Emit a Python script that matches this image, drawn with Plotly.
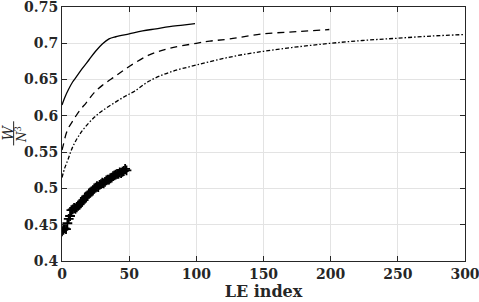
import plotly.graph_objects as go

# Solid curve (indices 0..99)
solid_x = [0, 2, 5, 8, 10, 15, 20, 25, 30, 35, 40, 50, 60, 70, 80, 90, 99]
solid_y = [0.615, 0.625, 0.637, 0.647, 0.652, 0.665, 0.677, 0.689, 0.699, 0.706,
           0.709, 0.713, 0.717, 0.720, 0.723, 0.725, 0.727]

# Dashed curve (indices 0..199)
dash_x = [0, 1, 3, 5, 8, 13, 18, 24, 30, 40, 50, 65, 80, 100, 110, 125, 150, 175, 199]
dash_y = [0.553, 0.560, 0.575, 0.584, 0.593, 0.607, 0.618, 0.632, 0.642, 0.655,
          0.668, 0.684, 0.693, 0.700, 0.703, 0.706, 0.713, 0.716, 0.719]

# Dash-dot curve (indices 0..299)
dd_x = [0, 2, 4.5, 7, 9.5, 13, 17, 24, 30, 39, 47, 54, 65, 80, 100, 125, 150, 175,
        200, 225, 250, 275, 299]
dd_y = [0.515, 0.528, 0.540, 0.553, 0.563, 0.574, 0.584, 0.598, 0.607, 0.618,
        0.627, 0.634, 0.648, 0.660, 0.670, 0.681, 0.689, 0.695, 0.700, 0.704,
        0.707, 0.710, 0.712]

# '+' marker series (indices 0..48)
plus_x = list(range(49))
plus_y = [0.441, 0.443, 0.445, 0.444, 0.452, 0.458, 0.462, 0.470, 0.471, 0.473,
          0.472, 0.474, 0.476, 0.478, 0.480, 0.482, 0.484, 0.487, 0.489, 0.490,
          0.493, 0.494, 0.496, 0.497, 0.500, 0.501, 0.503, 0.502, 0.505, 0.506,
          0.508, 0.507, 0.509, 0.511, 0.512, 0.512, 0.514, 0.515, 0.517, 0.518,
          0.519, 0.520, 0.520, 0.522, 0.521, 0.523, 0.524, 0.527, 0.525]

x_ticks = [0, 50, 100, 150, 200, 250, 300]
y_ticks = [0.4, 0.45, 0.5, 0.55, 0.6, 0.65, 0.7, 0.75]

FONT = "DejaVu Serif"
INK = "#262626"

fig = go.Figure()
fig.add_trace(go.Scatter(x=solid_x, y=solid_y, mode="lines",
                         line=dict(color="black", width=1.3), line_shape="spline"))
fig.add_trace(go.Scatter(x=dash_x, y=dash_y, mode="lines",
                         line=dict(color="black", width=1.3, dash="7px,5px"), line_shape="spline"))
fig.add_trace(go.Scatter(x=dd_x, y=dd_y, mode="lines",
                         line=dict(color="black", width=1.3, dash="4px,2px,1.5px,2px"), line_shape="spline"))
fig.add_trace(go.Scatter(x=plus_x, y=plus_y, mode="lines+markers",
                         line=dict(color="black", width=1),
                         marker=dict(symbol="cross-thin", size=7,
                                     line=dict(color="black", width=1.8))))

axis_common = dict(
    showline=True, linecolor=INK, linewidth=1, mirror="ticks",
    ticks="inside", ticklen=5, tickcolor=INK, automargin=False,
    showgrid=True, gridcolor="#e3e3e3", gridwidth=1, zeroline=False,
    ticklabeloverflow="allow",
    tickfont=dict(family=FONT, size=14, color=INK),
)

fig.update_xaxes(range=[0, 300], tickvals=x_ticks,
                 ticktext=["<b>%d</b>" % v for v in x_ticks],
                 title=dict(text="<b>LE index</b>", standoff=4,
                            font=dict(family=FONT, size=16, color=INK)),
                 **axis_common)
fig.update_yaxes(range=[0.4, 0.75], tickvals=y_ticks,
                 ticktext=["<b>%g</b>" % v for v in y_ticks], **axis_common)

# y-axis label as a rotated fraction W / N^3
fig.add_annotation(xref="paper", yref="paper", x=-0.135, y=0.504, text="<i>W</i>",
                   textangle=-90, showarrow=False, xanchor="center", yanchor="middle",
                   font=dict(family=FONT, size=14, color=INK))
fig.add_annotation(xref="paper", yref="paper", x=-0.102, y=0.500,
                   text="<i>N</i><sup>3</sup>",
                   textangle=-90, showarrow=False, xanchor="center", yanchor="middle",
                   font=dict(family=FONT, size=12, color=INK))
fig.add_shape(type="line", xref="paper", yref="paper", x0=-0.120, x1=-0.120,
              y0=0.455, y1=0.55, line=dict(color=INK, width=1))

fig.update_layout(
    width=479, height=302,
    margin=dict(l=62, r=14, t=7, b=41, autoexpand=False),
    paper_bgcolor="white", plot_bgcolor="white",
    showlegend=False,
)

fig.write_html("out.html", config={"displayModeBar": False},
               post_script="document.body.style.margin='0px';document.body.style.padding='0px';")
